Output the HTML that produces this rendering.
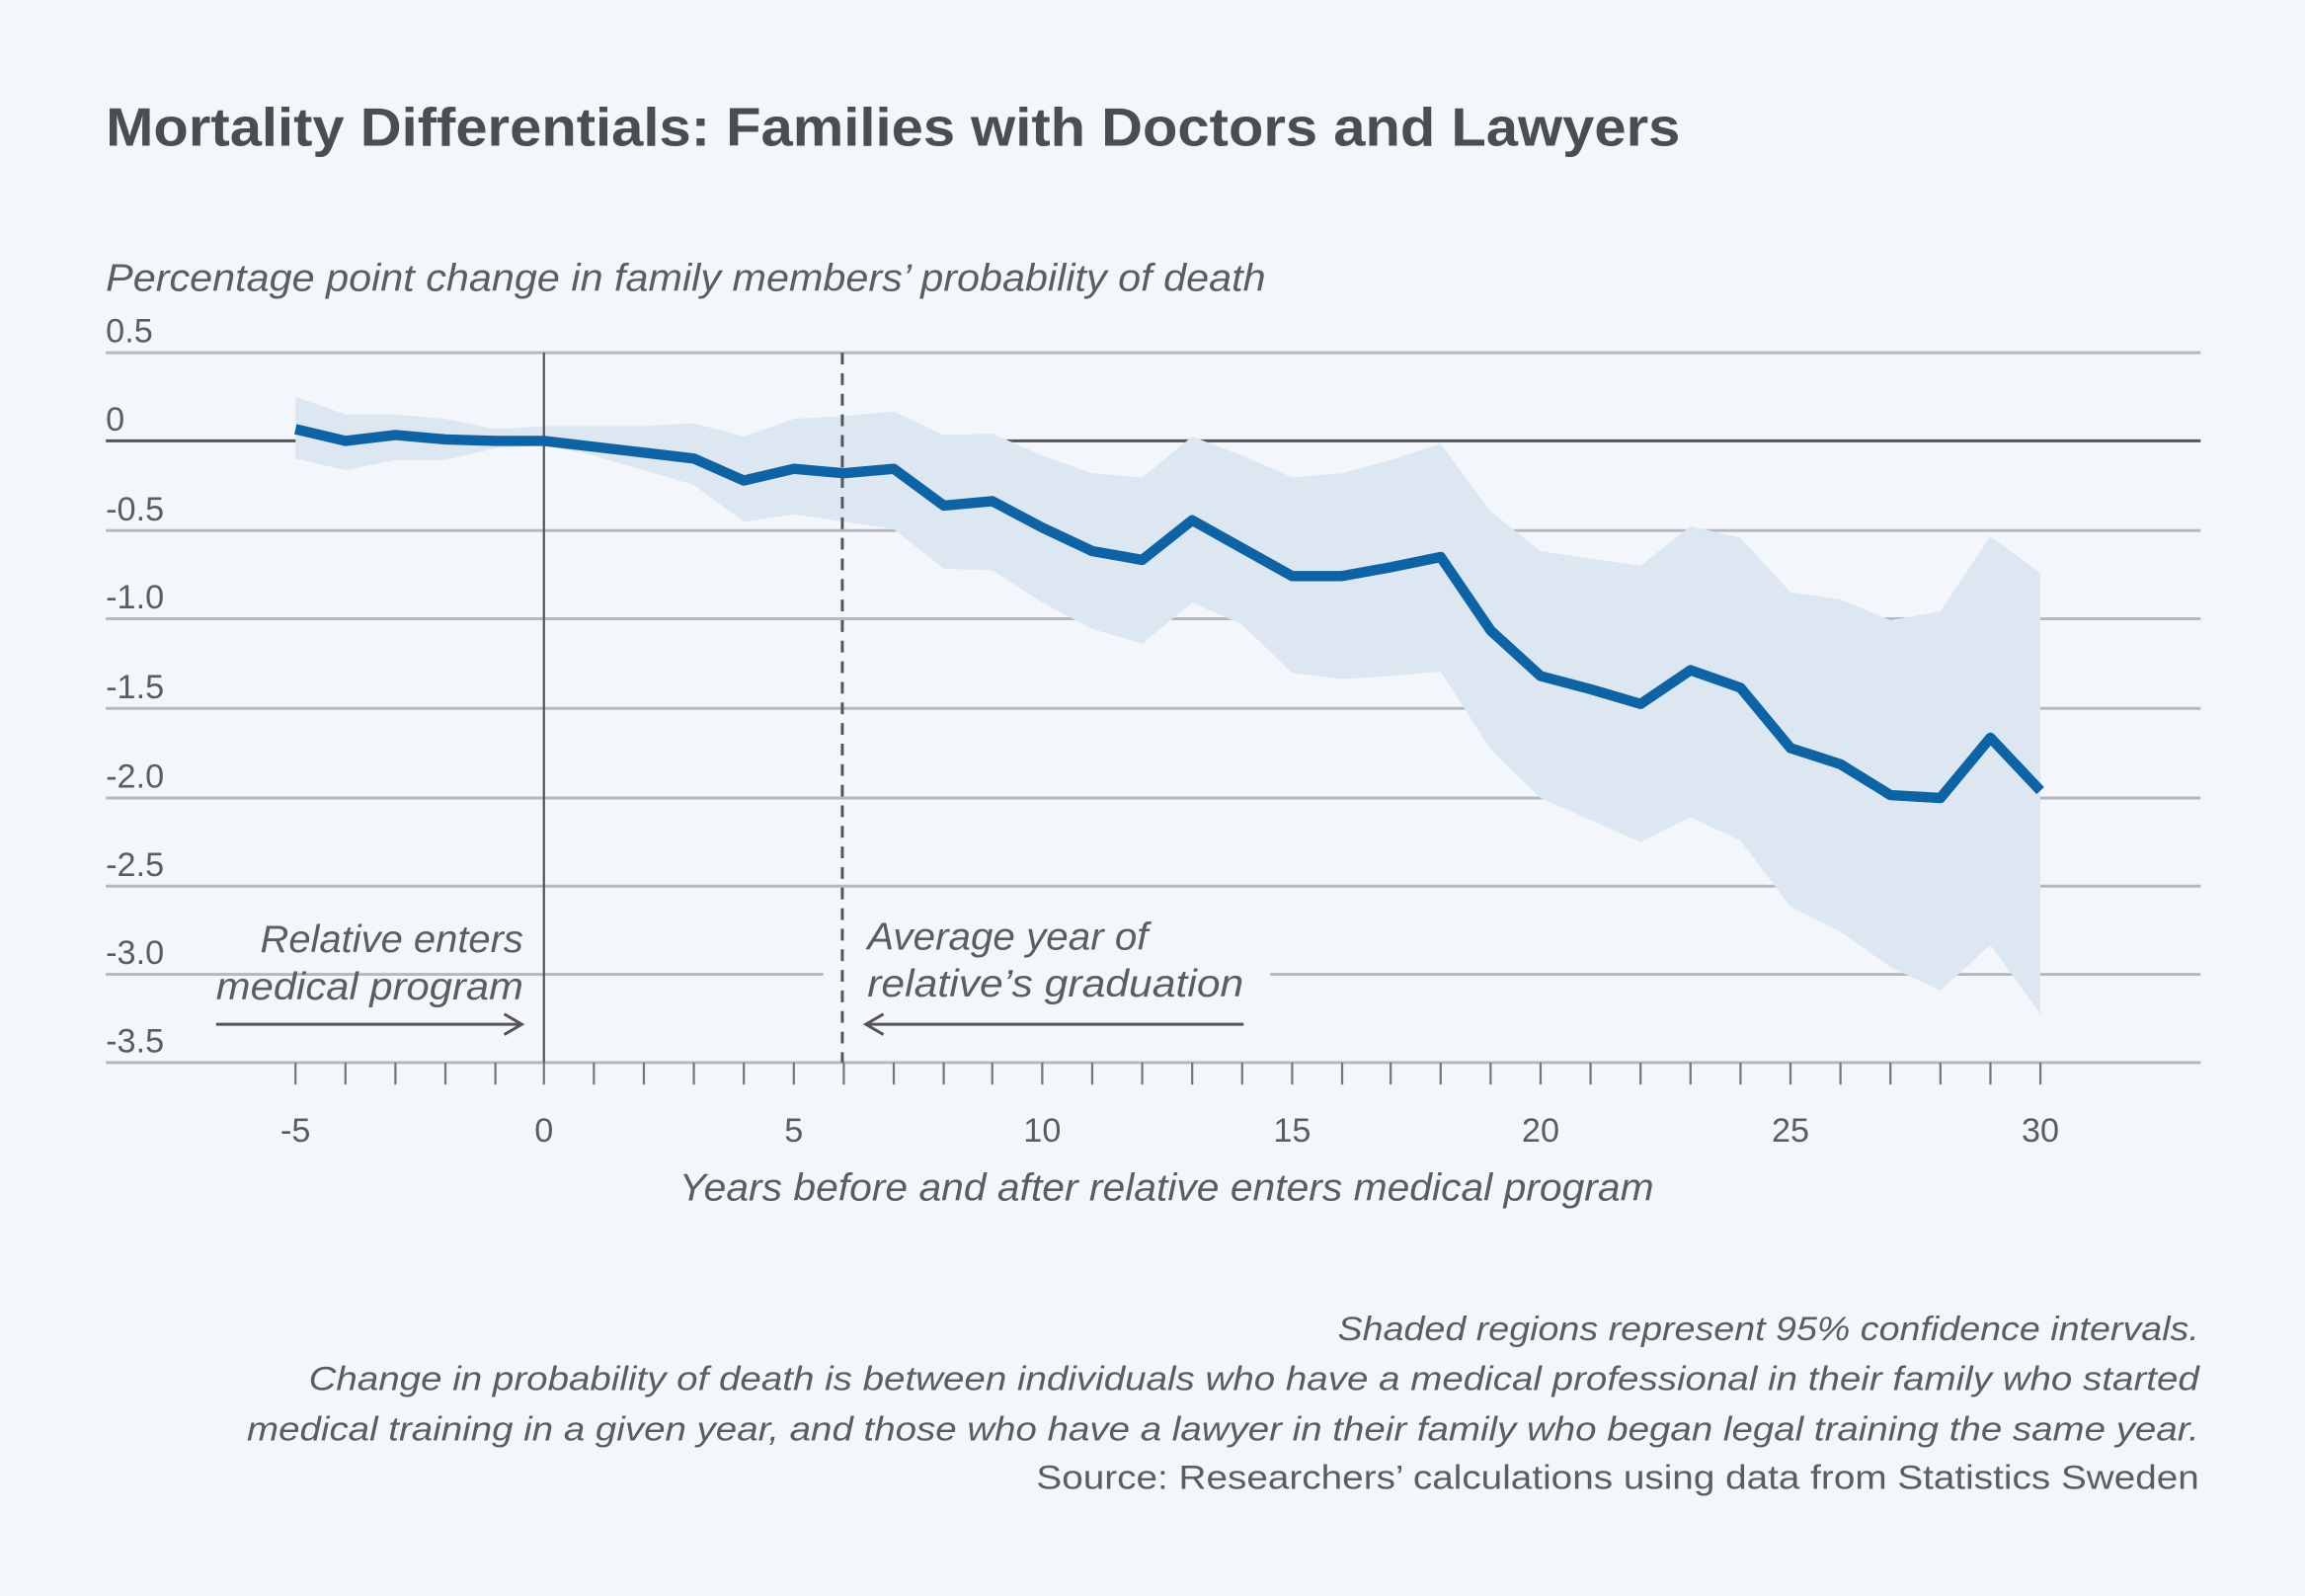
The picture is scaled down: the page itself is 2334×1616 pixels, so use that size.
<!DOCTYPE html>
<html><head><meta charset="utf-8"><style>
html,body{margin:0;padding:0;background:#f3f6fa;}
svg{display:block;}
text{font-family:"Liberation Sans",sans-serif;}
</style></head><body>
<svg width="2334" height="1616" viewBox="0 0 1568 1086" preserveAspectRatio="none" xmlns="http://www.w3.org/2000/svg">
<rect width="1568" height="1086" fill="#f3f6fa"/>
<text x="72" y="99" font-size="37" font-weight="bold" fill="#4a4d52" textLength="1071" lengthAdjust="spacingAndGlyphs">Mortality Differentials: Families with Doctors and Lawyers</text>
<text x="72" y="198" font-size="26" font-style="italic" fill="#5a5d62" textLength="789" lengthAdjust="spacingAndGlyphs">Percentage point change in family members’ probability of death</text>
<g stroke="#b5b8bd" stroke-width="2">
<line x1="72" y1="240" x2="1497" y2="240"/>
<line x1="72" y1="361" x2="1497" y2="361"/>
<line x1="72" y1="421" x2="1497" y2="421"/>
<line x1="72" y1="482" x2="1497" y2="482"/>
<line x1="72" y1="543" x2="1497" y2="543"/>
<line x1="72" y1="603" x2="1497" y2="603"/>
<line x1="72" y1="663" x2="560" y2="663"/>
<line x1="864" y1="663" x2="1497" y2="663"/>
<line x1="72" y1="723" x2="1497" y2="723"/>
</g>
<line x1="72" y1="300" x2="1497" y2="300" stroke="#555" stroke-width="2"/>
<g font-size="23" fill="#5a5d62">
<text x="72" y="233">0.5</text><text x="72" y="293">0</text><text x="72" y="354">-0.5</text>
<text x="72" y="414">-1.0</text><text x="72" y="475">-1.5</text><text x="72" y="536">-2.0</text>
<text x="72" y="596">-2.5</text><text x="72" y="656">-3.0</text><text x="72" y="716">-3.5</text>
</g>
<g font-size="23" fill="#5a5d62" text-anchor="middle">
<text x="201" y="777">-5</text><text x="370" y="777">0</text><text x="540" y="777">5</text><text x="709" y="777">10</text>
<text x="879" y="777">15</text><text x="1048" y="777">20</text><text x="1218" y="777">25</text><text x="1388" y="777">30</text>
</g>
<polygon fill="#dce7f2" points="201,270 235,282 269,282 303,285 337,292 370,290 404,290 438,290 472,288 506,297 540,285 574,283 608,280 642,296 675,295 709,310 743,322 777,325 811,297 845,310 879,325 913,322 946,313 980,302 1014,348 1048,375 1082,380 1116,385 1150,358 1184,366 1218,403 1252,408 1286,422 1320,416 1354,365 1388,390 1388,690 1354,643 1320,674 1286,658 1252,634 1218,617 1184,572 1150,556 1116,573 1082,558 1048,543 1014,510 980,457 946,460 913,462 879,458 845,425 811,410 777,438 743,428 709,410 675,388 642,387 608,360 574,355 540,350 506,355 472,330 438,320 404,310 370,303 337,305 303,313 269,313 235,320 201,312"/>
<line x1="370" y1="240" x2="370" y2="723" stroke="#555" stroke-width="1.5"/>
<line x1="573" y1="240" x2="573" y2="723" stroke="#555" stroke-width="2" stroke-dasharray="8,6"/>
<polyline fill="none" stroke="#0e63a5" stroke-width="7" stroke-linejoin="round" points="201,292 235,300 269,296 303,299 337,300 370,300 404,304 438,308 472,312 506,327 540,319 574,322 608,319 642,344 675,341 709,359 743,375 777,381 811,354 845,373 879,392 913,392 946,386 980,379 1014,429 1048,460 1082,469 1116,479 1150,456 1184,468 1218,509 1252,520 1286,541 1320,543 1354,502 1388,538"/>
<g font-size="26" font-style="italic" fill="#5a5d62">
<text x="177" y="648" textLength="179" lengthAdjust="spacingAndGlyphs">Relative enters</text>
<text x="147" y="680" textLength="209" lengthAdjust="spacingAndGlyphs">medical program</text>
<text x="590" y="646" textLength="191" lengthAdjust="spacingAndGlyphs">Average year of</text>
<text x="590" y="678" textLength="256" lengthAdjust="spacingAndGlyphs">relative’s graduation</text>
<text x="462" y="817" textLength="663" lengthAdjust="spacingAndGlyphs">Years before and after relative enters medical program</text>
</g>
<g stroke="#555" stroke-width="2" fill="none">
<line x1="147" y1="697" x2="354" y2="697"/><polyline points="343,690 355,697 343,704"/>
<line x1="590" y1="697" x2="846" y2="697"/><polyline points="601,690 589,697 601,704"/>
</g>
<g font-size="23" fill="#5a5d62">
<text x="910" y="912" font-style="italic" textLength="586" lengthAdjust="spacingAndGlyphs">Shaded regions represent 95% confidence intervals.</text>
<text x="210" y="946" font-style="italic" textLength="1286" lengthAdjust="spacingAndGlyphs">Change in probability of death is between individuals who have a medical professional in their family who started</text>
<text x="168" y="980" font-style="italic" textLength="1328" lengthAdjust="spacingAndGlyphs">medical training in a given year, and those who have a lawyer in their family who began legal training the same year.</text>
<text x="705" y="1013" textLength="791" lengthAdjust="spacingAndGlyphs">Source: Researchers’ calculations using data from Statistics Sweden</text>
</g>
<g stroke="#777" stroke-width="1.5">
<line x1="201" y1="723" x2="201" y2="738"/><line x1="235" y1="723" x2="235" y2="738"/><line x1="269" y1="723" x2="269" y2="738"/><line x1="303" y1="723" x2="303" y2="738"/><line x1="337" y1="723" x2="337" y2="738"/><line x1="370" y1="723" x2="370" y2="738"/>
<line x1="404" y1="723" x2="404" y2="738"/><line x1="438" y1="723" x2="438" y2="738"/><line x1="472" y1="723" x2="472" y2="738"/><line x1="506" y1="723" x2="506" y2="738"/><line x1="540" y1="723" x2="540" y2="738"/>
<line x1="574" y1="723" x2="574" y2="738"/><line x1="608" y1="723" x2="608" y2="738"/><line x1="642" y1="723" x2="642" y2="738"/><line x1="675" y1="723" x2="675" y2="738"/><line x1="709" y1="723" x2="709" y2="738"/>
<line x1="743" y1="723" x2="743" y2="738"/><line x1="777" y1="723" x2="777" y2="738"/><line x1="811" y1="723" x2="811" y2="738"/><line x1="845" y1="723" x2="845" y2="738"/><line x1="879" y1="723" x2="879" y2="738"/>
<line x1="913" y1="723" x2="913" y2="738"/><line x1="946" y1="723" x2="946" y2="738"/><line x1="980" y1="723" x2="980" y2="738"/><line x1="1014" y1="723" x2="1014" y2="738"/><line x1="1048" y1="723" x2="1048" y2="738"/>
<line x1="1082" y1="723" x2="1082" y2="738"/><line x1="1116" y1="723" x2="1116" y2="738"/><line x1="1150" y1="723" x2="1150" y2="738"/><line x1="1184" y1="723" x2="1184" y2="738"/><line x1="1218" y1="723" x2="1218" y2="738"/>
<line x1="1252" y1="723" x2="1252" y2="738"/><line x1="1286" y1="723" x2="1286" y2="738"/><line x1="1320" y1="723" x2="1320" y2="738"/><line x1="1354" y1="723" x2="1354" y2="738"/><line x1="1388" y1="723" x2="1388" y2="738"/>
</g>
</svg>
</body></html>
